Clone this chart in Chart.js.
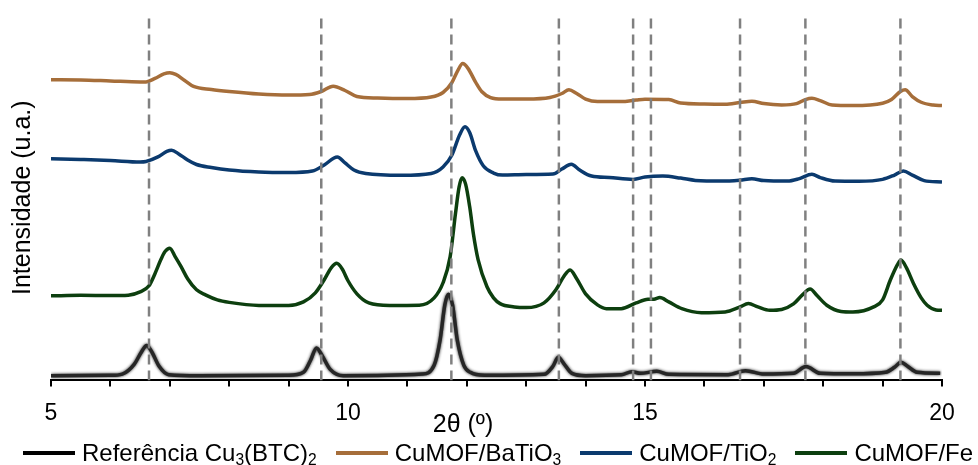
<!DOCTYPE html>
<html>
<head>
<meta charset="utf-8">
<script src="https://cdn.jsdelivr.net/npm/chart.js@4.4.1/dist/chart.umd.min.js"></script>
<style>
  body { margin: 0; background: #fff; }
  #wrap { position: relative; width: 978px; height: 465px; font-family: "Liberation Sans", Arial, sans-serif; color: #000; }
  #xTitle { position: absolute; left: 463px; top: 408px; transform: translateX(-50%); font-size: 25px; line-height: 30px; white-space: nowrap; }
  #legend { position: absolute; left: 23px; top: 440px; height: 26px; display: flex; align-items: center; font-size: 24px; white-space: nowrap; }
  .item { display: flex; align-items: center; margin-right: 19px; }
  .swatch { width: 52px; height: 4px; margin-right: 7px; }
  sub { font-size: 0.65em; line-height: 0; vertical-align: -0.25em; }
</style>
</head>
<body>
<div id="wrap">
  <canvas id="xrdChart" width="978" height="465"></canvas>
  <div id="xTitle">2θ (º)</div>
  <div id="legend"></div>
</div>
<script>
// series names
const seriesLabels = ['Referência Cu₃(BTC)₂', 'CuMOF/BaTiO₃', 'CuMOF/TiO₂', 'CuMOF/Fe'];
const seriesColors = ['#262626', '#a66e3a', '#0b3a6e', '#0d3f0f'];
const legendColors = ['#000000', '#a66e3a', '#0b3a6e', '#0d3f0f'];

// reference pattern (stacked at the bottom)
const refX = [5.0, 6.0, 6.2, 6.4, 6.52, 6.61, 6.7, 6.82, 6.98, 7.5, 9.0, 9.25, 9.37, 9.47, 9.57, 9.7, 9.92,
  11.25, 11.45, 11.55, 11.63, 11.69, 11.76, 11.84, 11.95, 12.06, 12.3, 13.3, 13.45, 13.54, 13.63, 13.77, 14.0,
  14.6, 14.78, 14.92, 15.2, 15.4, 16.4, 16.69, 17.0, 17.5, 17.71, 17.95, 18.5, 19.05, 19.2, 19.31, 19.42, 19.58, 19.97];
const refY = [4.7, 5, 6.3, 16, 28, 34.7, 28, 14, 5.7, 4.7, 5, 8, 20, 32.3, 24, 11, 4.7,
  6.3, 15, 40, 75, 85.7, 75, 40, 15, 8, 5, 6, 14, 23, 17, 7, 4.7,
  5.5, 8.7, 7, 9, 6, 5.7, 9.7, 6.3, 7, 13.7, 7, 6.5, 8, 13, 18, 14, 8, 7];

// CuMOF/BaTiO3
const batX = [5.0, 5.5, 6.0, 6.5, 6.6, 6.75, 6.9, 7.0, 7.1, 7.25, 7.4, 7.7, 8.0, 8.5, 9.0, 9.35, 9.55, 9.75, 9.95,
  10.15, 10.5, 11.0, 11.4, 11.6, 11.75, 11.85, 11.93, 12.02, 12.15, 12.25, 12.4, 12.6, 13.0, 13.4, 13.6, 13.72,
  13.85, 14.0, 14.2, 14.6, 14.85, 15.0, 15.4, 15.6, 16.0, 16.35, 16.6, 16.8, 17.0, 17.3, 17.55, 17.7, 17.81,
  17.95, 18.15, 18.5, 19.0, 19.15, 19.3, 19.38, 19.5, 19.65, 19.85, 20.0];
const batY = [298.7, 298.5, 297.5, 296.5, 296.5, 300, 304.5, 305.7, 304, 298, 292, 289, 287, 284.5, 283.5, 284, 287, 292.3, 288,
  282, 280.5, 280, 281.5, 286, 296, 308, 314.7, 310, 296, 287, 281, 279.5, 279.5, 281, 285, 288.7,
  285, 279.5, 277, 277, 278.5, 279.3, 279, 275.5, 274.5, 274.3, 276, 277.3, 275, 273.7, 275, 279, 280.3,
  278, 273.5, 273, 275.3, 279, 287, 288.7, 282, 276.3, 273.5, 273];

// CuMOF/TiO2
const tioX = [5.0, 5.5, 6.0, 6.5, 6.6, 6.8, 6.95, 7.03, 7.15, 7.3, 7.45, 7.7, 8.0, 8.5, 9.0, 9.4, 9.6, 9.82, 9.95,
  10.1, 10.3, 10.9, 11.4, 11.6, 11.75, 11.88, 11.97, 12.05, 12.15, 12.28, 12.45, 12.6, 13.0, 13.45, 13.6, 13.76,
  13.9, 14.1, 14.4, 14.8, 15.0, 15.3, 15.6, 15.85, 16.3, 16.6, 16.8, 17.0, 17.4, 17.6, 17.81, 17.95, 18.2,
  18.6, 19.0, 19.2, 19.35, 19.5, 19.7, 20.0];
const tioY = [220.3, 219.5, 218.5, 217, 217.5, 222, 227.5, 228.7, 225, 219, 214.5, 211.5, 209, 207, 206.5, 208, 214, 222, 216,
  209, 205.5, 203.7, 205.5, 212, 224, 244, 252, 246, 228, 213, 206, 204, 204.5, 205, 210, 214.7,
  209, 203, 201.5, 199.7, 202, 203, 201, 198.7, 198, 199, 200.3, 198.5, 198, 200.5, 204.7, 201.5, 198,
  197.8, 199.7, 204, 208, 204, 198.5, 197];

// CuMOF/Fe
const feX = [5.0, 5.5, 6.0, 6.3, 6.5, 6.65, 6.75, 6.85, 6.92, 7.0, 7.09, 7.19, 7.3, 7.45, 7.6, 7.8, 8.0, 8.5, 9.0,
  9.25, 9.45, 9.6, 9.72, 9.81, 9.9, 10.0, 10.15, 10.35, 10.7, 11.2, 11.45, 11.6, 11.72, 11.81, 11.87, 11.92,
  11.98, 12.05, 12.11, 12.19, 12.34, 12.45, 12.56, 12.8, 13.0, 13.3, 13.5, 13.63, 13.74, 13.85, 14.0, 14.2,
  14.35, 14.6, 14.85, 15.05, 15.15, 15.25, 15.4, 15.62, 15.95, 16.35, 16.6, 16.74, 16.9, 17.1, 17.3, 17.5,
  17.65, 17.78, 17.9, 18.06, 18.3, 18.5, 18.85, 19.0, 19.13, 19.25, 19.31, 19.4, 19.52, 19.65, 19.75, 19.9, 20.0];
const feY = [84, 84.5, 84.3, 84.7, 88, 94, 106, 120, 128, 131.3, 123, 113, 101, 90, 85, 80, 77.5, 74.5, 74.5,
  78, 87, 100, 112, 116.3, 111, 99, 86, 77, 74.5, 74.7, 82, 97, 123, 166, 192, 201.3,
  195, 172, 146, 120, 93, 82, 76.3, 73, 72.3, 77, 90, 103, 109.7, 101, 86, 75,
  71.3, 71.3, 77, 80.5, 80.7, 82.3, 78, 71.3, 67.3, 68, 73, 76.3, 73, 69.7, 70.5, 76,
  85, 90.7, 84, 74.7, 68.5, 68, 73, 80, 99.7, 115, 119.7, 112, 96.3, 82, 74.7, 70, 69.7];

// reference peak positions (dashed guides)
const peakLines = [6.65, 9.55, 11.74, 13.55, 14.80, 15.10, 16.60, 17.70, 19.30];

const xTicks = [5, 10, 15, 20];
const yMin = 0, yMax = 363;

const toPoints = (xs, ys) => xs.map((x, i) => ({ x: x, y: ys[i] }));
const seriesData = [toPoints(refX, refY), toPoints(batX, batY), toPoints(tioX, tioY), toPoints(feX, feY)];

const datasets = seriesData.map((pts, i) => ({
  label: seriesLabels[i],
  data: pts,
  borderColor: seriesColors[i],
  backgroundColor: legendColors[i],
  borderWidth: 3.5,
  pointRadius: 0,
  fill: false,
  cubicInterpolationMode: 'monotone',
  order: 1
}));

peakLines.forEach(p => {
  datasets.push({
    data: [{ x: p, y: yMin }, { x: p, y: yMax }],
    borderColor: '#808080',
    borderWidth: 2.5,
    borderDash: [10, 6],
    pointRadius: 0,
    fill: false,
    order: 0
  });
});

// soft blur on the reference trace
const blurRef = {
  id: 'blurRef',
  beforeDatasetDraw(chart, args) {
    if (args.index === 0) {
      chart.ctx.save();
      chart.ctx.shadowColor = 'rgba(0,0,0,0.9)';
      chart.ctx.shadowBlur = 3;
    }
  },
  afterDatasetDraw(chart, args) {
    if (args.index === 0) chart.ctx.restore();
  }
};

Chart.defaults.font.family = '"Liberation Sans", Arial, sans-serif';
Chart.defaults.color = '#000';

const chart = new Chart(document.getElementById('xrdChart'), {
  type: 'line',
  data: { datasets: datasets },
  plugins: [blurRef],
  options: {
    responsive: false,
    animation: false,
    layout: { padding: { top: 15, right: 36, bottom: 25, left: 0 } },
    plugins: {
      legend: { display: false },
      tooltip: { enabled: false }
    },
    scales: {
      x: {
        type: 'linear',
        min: 5,
        max: 20,
        border: { display: true, color: '#000', width: 2 },
        grid: { drawOnChartArea: false, drawTicks: true, tickLength: 6, color: '#000', lineWidth: 2 },
        ticks: {
          stepSize: 1,
          autoSkip: false,
          maxRotation: 0,
          padding: 13,
          font: { size: 23 },
          callback: v => (xTicks.includes(v) ? String(v) : '')
        }
      },
      y: {
        min: yMin,
        max: yMax,
        border: { display: false },
        grid: { display: false, drawTicks: false },
        ticks: { display: false },
        title: {
          display: true,
          text: 'Intensidade (u.a.)',
          font: { size: 25 },
          padding: { top: 8, bottom: 13 }
        }
      }
    }
  }
});

// html legend built from the chart datasets
const legendEl = document.getElementById('legend');
chart.data.datasets.filter(d => d.label).forEach(d => {
  const item = document.createElement('div');
  item.className = 'item';
  const sw = document.createElement('span');
  sw.className = 'swatch';
  sw.style.background = d.backgroundColor;
  const txt = document.createElement('span');
  txt.innerHTML = d.label.replace(/[₀-₉]/g, c => '<sub>' + (c.charCodeAt(0) - 0x2080) + '</sub>');
  item.appendChild(sw);
  item.appendChild(txt);
  legendEl.appendChild(item);
});
</script>
</body>
</html>
